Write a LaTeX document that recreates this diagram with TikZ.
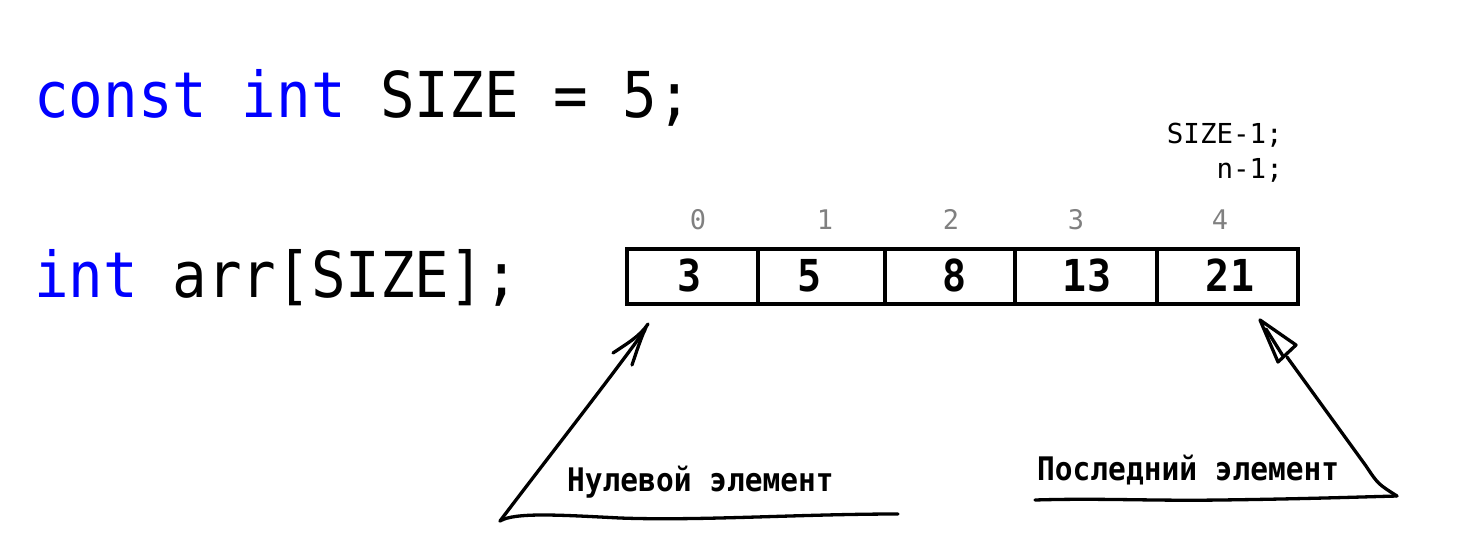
\documentclass[tikz,border=0pt]{standalone}
\usepackage{fontspec}
\usepackage{graphicx}
\newfontfamily\mono{DejaVu Sans Mono}
\definecolor{kw}{RGB}{0,0,255}
\definecolor{idx}{RGB}{128,128,128}
\newcommand{\tallx}[1]{\scalebox{1}[1.1]{#1}}
\begin{document}
\begin{tikzpicture}[x=1pt,y=-1pt,
  code/.style={anchor=base west,inner sep=0,font=\mono\fontsize{57.5}{60}\selectfont},
  cellnum/.style={anchor=base,inner sep=0,font=\mono\bfseries\fontsize{40}{44}\selectfont},
  idxnum/.style={anchor=base,inner sep=0,text=idx,font=\mono\fontsize{27}{30}\selectfont},
  small/.style={anchor=base east,inner sep=0,font=\mono\fontsize{27.5}{30}\selectfont},
  lbl/.style={anchor=base west,inner sep=0,font=\mono\bfseries\fontsize{29.5}{32}\selectfont},
  hand/.style={line width=3.3pt,line cap=round,line join=round},
  frame/.style={line width=4pt}]
\useasboundingbox (0,0) rectangle (1484,538);
% code lines
\node[code] (l1) at (34,117) {\tallx{\textcolor{kw}{const int} SIZE = 5;}};
\node[code] (l2) at (34,297) {\tallx{\textcolor{kw}{int} arr[SIZE];}};
% array frame
\draw[frame] (627,249) rectangle (1298,304);
\foreach \x in {758,885,1015,1157} \draw[frame] (\x,249) -- (\x,304);
\node[cellnum] (c0) at (690,291) {\tallx{3}};
\node[cellnum] (c1) at (810,291) {\tallx{5}};
\node[cellnum] (c2) at (955,291) {\tallx{8}};
\node[cellnum] (c3) at (1087,291) {\tallx{13}};
\node[cellnum] (c4) at (1230,291) {\tallx{21}};
\node[idxnum] (i0) at (698,229) {0};
\node[idxnum] (i1) at (825,229) {1};
\node[idxnum] (i2) at (951,229) {2};
\node[idxnum] (i3) at (1076,229) {3};
\node[idxnum] (i4) at (1220,229) {4};
\node[small] (s1) at (1283,143) {SIZE-1;};
\node[small] (s2) at (1283,178) {n-1;};
% labels
\node[lbl] (lz) at (567,491) {\tallx{Нулевой элемент}};
\node[lbl] (ll) at (1037,480) {\tallx{Последний элемент}};
% left hand-drawn arrow
\coordinate (La) at (500,521);
\coordinate (Lt) at (648,324);
\coordinate (Lb) at (898,514);
\draw[hand] (La) .. controls (550,455) and (605,385) .. (645,330);
\draw[hand] (613,353) .. controls (628,343) and (640,336) .. (Lt);
\draw[hand] (632,365) .. controls (637,350) and (641,338) .. (646,327);
\draw[hand] (La) .. controls (515,512) and (560,515) .. (620,518)
  .. controls (700,521) and (800,514) .. (Lb);
% right hand-drawn arrow
\coordinate (Ra) at (1397,496);
\coordinate (Rt) at (1260,320);
\coordinate (Rb) at (1035,500);
\draw[hand] (Rt) -- (1296,345) -- (1278,362) -- cycle;
\draw[hand] (1266,329) -- (1283,356);
\draw[hand] (1287,357) -- (1366,466) .. controls (1378,484) .. (Ra);
\draw[hand] (Rb) .. controls (1100,498) and (1150,501) .. (1220,500)
  .. controls (1300,499) and (1360,497) .. (Ra);
\end{tikzpicture}
\end{document}
